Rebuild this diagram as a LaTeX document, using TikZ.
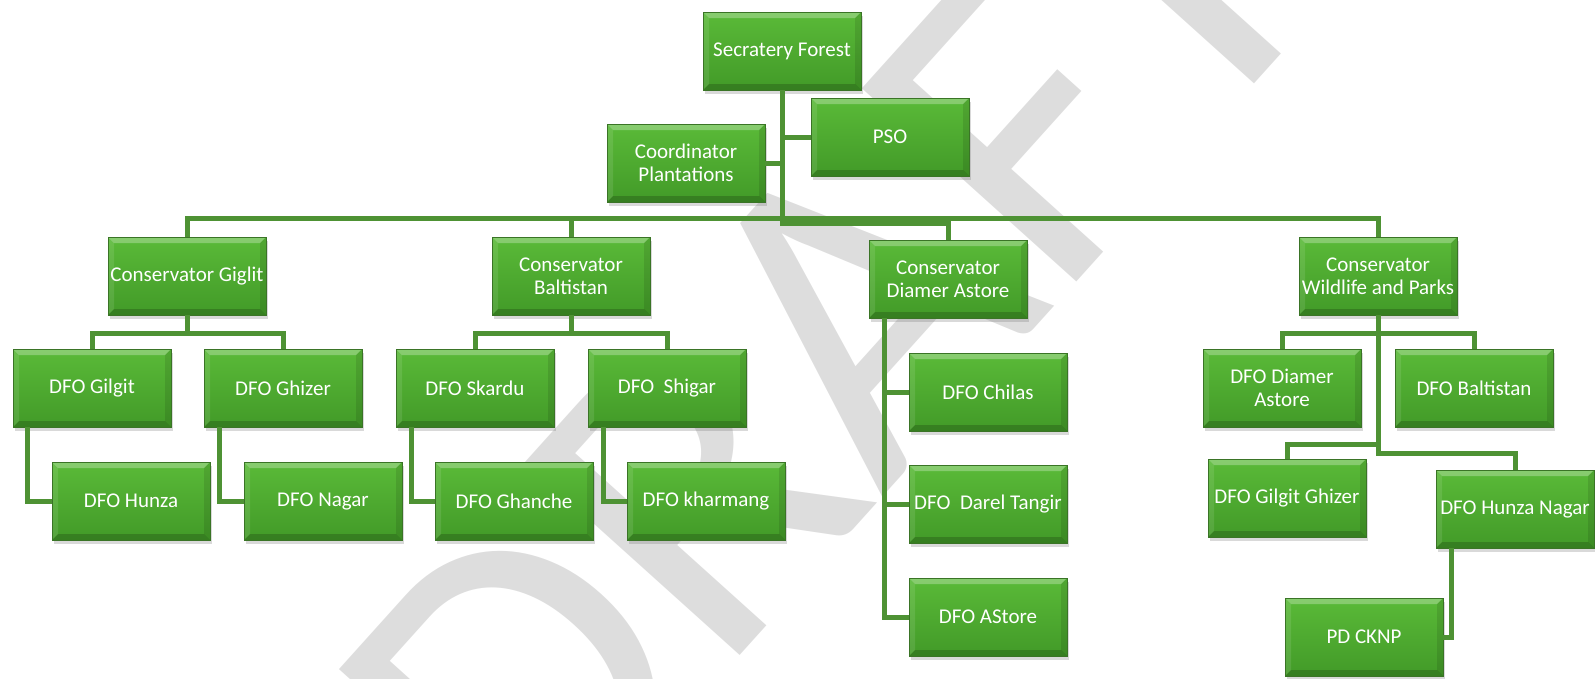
\documentclass[tikz,border=0pt]{standalone}
\usepackage{fontspec}
\setmainfont{Carlito}
\usetikzlibrary{shadows}
\definecolor{facetop}{RGB}{90,186,56}
\definecolor{facebot}{RGB}{66,154,40}
\definecolor{rim}{RGB}{58,116,38}
\definecolor{linkgreen}{RGB}{78,146,52}
\definecolor{wmgray}{RGB}{221,221,221}
\newcommand{\bevelbox}{%
\fill[white, opacity=0.28] (path picture bounding box.north west) -- (path picture bounding box.north east) -- ([xshift=-6pt,yshift=-6pt]path picture bounding box.north east) -- ([xshift=6pt,yshift=-6pt]path picture bounding box.north west) -- cycle;
\fill[white, opacity=0.10] (path picture bounding box.north west) -- ([xshift=6pt,yshift=-6pt]path picture bounding box.north west) -- ([xshift=6pt,yshift=6pt]path picture bounding box.south west) -- (path picture bounding box.south west) -- cycle;
\fill[black, opacity=0.10] (path picture bounding box.north east) -- ([xshift=-6pt,yshift=-6pt]path picture bounding box.north east) -- ([xshift=-6pt,yshift=6pt]path picture bounding box.south east) -- (path picture bounding box.south east) -- cycle;
\fill[black, opacity=0.18] (path picture bounding box.south west) -- (path picture bounding box.south east) -- ([xshift=-6pt,yshift=6pt]path picture bounding box.south east) -- ([xshift=6pt,yshift=6pt]path picture bounding box.south west) -- cycle;}
\tikzstyle{unit} = [rectangle, minimum width=158pt, minimum height=78pt, inner sep=0pt, align=center, text=white, font=\fontsize{21}{23}\selectfont, top color=facetop, bottom color=facebot, draw=rim, line width=0.6pt, drop shadow={shadow xshift=1.5pt, shadow yshift=-3.5pt, opacity=0.3}, path picture={\bevelbox}]
\tikzstyle{conn} = [line width=5pt, draw=linkgreen]
\tikzstyle{watermark} = [text=wmgray, rotate=48, inner sep=0pt, font=\fontsize{450}{450}\selectfont]

\begin{document}
\begin{tikzpicture}[x=1pt, y=-1pt]
\useasboundingbox (0,0) rectangle (1595,678);

\node (w) [watermark] at (830,340) {DRAFT};

\node (0) [unit] at (782,51) {Secratery Forest};
\node (1) [unit] at (890,137) {PSO};
\node (2) [unit] at (686,163) {Coordinator\\Plantations};
\node (3) [unit] at (187,276) {Conservator Giglit};
\node (4) [unit] at (571,276) {Conservator\\Baltistan};
\node (5) [unit] at (948,279) {Conservator\\Diamer Astore};
\node (6) [unit] at (1378,276) {Conservator\\Wildlife and Parks};
\node (7) [unit] at (92,388) {DFO Gilgit};
\node (8) [unit] at (283,388) {DFO Ghizer};
\node (9) [unit] at (131,501) {DFO Hunza};
\node (10) [unit] at (323,501) {DFO Nagar};
\node (11) [unit] at (475,388) {DFO Skardu};
\node (12) [unit] at (667,388) {DFO~~Shigar};
\node (13) [unit] at (514,501) {DFO Ghanche};
\node (14) [unit] at (706,501) {DFO kharmang};
\node (15) [unit] at (988,392) {DFO Chilas};
\node (16) [unit] at (988,504) {DFO~~Darel Tangir};
\node (17) [unit] at (988,617) {DFO AStore};
\node (18) [unit] at (1282,388) {DFO Diamer\\Astore};
\node (19) [unit] at (1474,388) {DFO Baltistan};
\node (20) [unit] at (1287,498) {DFO Gilgit Ghizer};
\node (21) [unit] at (1515,509) {DFO Hunza Nagar};
\node (22) [unit] at (1364,637) {PD CKNP};

\coordinate (a) at (0,218);
\coordinate (b) at (0,223);
\coordinate (c) at (0,333);
\coordinate (d) at ([xshift=16pt]5.south west);

\draw [conn] (0.south) -- (0.south |- b) -| (5.north);
\draw [conn] (3.north) -- (3.north |- a) -- (6.north |- a) -- (6.north);
\draw [conn] (4.north) -- (4.north |- a);
\draw [conn] (1.west) -- (1.west -| 0.south);
\draw [conn] (2.east) -- (2.east -| 0.south);

\draw [conn] (3.south) -- (3.south |- c);
\draw [conn] (7.north) |- (8.north |- c) -- (8.north);
\draw [conn] ([xshift=15pt]7.south west) |- (9.west);
\draw [conn] ([xshift=16pt]8.south west) |- (10.west);

\draw [conn] (4.south) -- (4.south |- c);
\draw [conn] (11.north) |- (12.north |- c) -- (12.north);
\draw [conn] ([xshift=16pt]11.south west) |- (13.west);
\draw [conn] ([xshift=16pt]12.south west) |- (14.west);

\draw [conn] (d) |- (17.west);
\draw [conn] (15.west) -- (15.west -| d);
\draw [conn] (16.west) -- (16.west -| d);

\draw [conn] (6.south) -- (6.south |- c);
\draw [conn] (18.north) |- (19.north |- c) -- (19.north);
\draw [conn] (6.south) -- ++(0,138) -| (21.north);
\draw [conn] (6.south) ++(0,129) -| (20.north);
\draw [conn] ([xshift=16pt]21.south west) |- (22.east);

\end{tikzpicture}
\end{document}
